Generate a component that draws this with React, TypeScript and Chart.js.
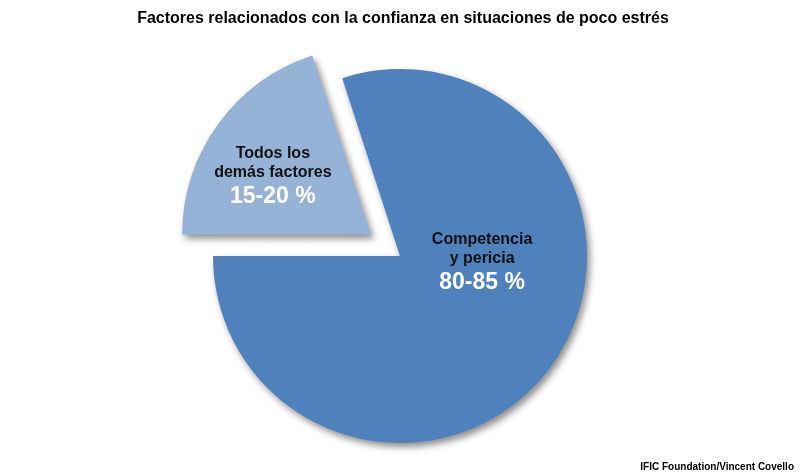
import React, { useEffect, useRef } from 'react';
import { Chart, registerables } from 'chart.js';

Chart.register(...registerables);

const TITLE = 'Factores relacionados con la confianza en situaciones de poco estrés';
const SOURCE = 'IFIC Foundation/Vincent Covello';
const categories = ['Todos los demás factores', 'Competencia y pericia'];
const labelLines = [['Todos los', 'demás factores'], ['Competencia', 'y pericia']];
const rangeLabels = ['15-20 %', '80-85 %'];
const shares = [20, 80];
const sliceColors = ['#95B3D7', '#4F81BD'];

const FONT = '"Liberation Sans", Arial, Helvetica, sans-serif';

const decorPlugin = {
  id: 'decor',
  beforeDatasetsDraw(chart: any) {
    const ctx = chart.ctx;
    ctx.save();
    ctx.shadowColor = 'rgba(0,0,0,0.45)';
    ctx.shadowBlur = 7;
    ctx.shadowOffsetX = 3;
    ctx.shadowOffsetY = 4;
  },
  afterDatasetsDraw(chart: any) {
    const ctx = chart.ctx;
    ctx.restore();
    const meta = chart.getDatasetMeta(0);
    const anchors = [
      [-0.68, -0.444],
      [0.439, 0.016],
    ];
    meta.data.forEach((arc: any, i: number) => {
      const r = arc.outerRadius;
      const cx = arc.x + anchors[i][0] * r;
      const cy = arc.y + anchors[i][1] * r;
      ctx.save();
      ctx.textAlign = 'center';
      ctx.textBaseline = 'middle';
      ctx.fillStyle = '#111111';
      ctx.font = `bold 16px ${FONT}`;
      ctx.fillText(labelLines[i][0], cx, cy - 19);
      ctx.fillText(labelLines[i][1], cx, cy);
      ctx.fillStyle = '#FFFFFF';
      ctx.font = `bold 23px ${FONT}`;
      ctx.fillText(rangeLabels[i], cx, cy + 24);
      ctx.restore();
    });
  },
  afterDraw(chart: any) {
    const ctx = chart.ctx;
    ctx.save();
    ctx.fillStyle = '#000000';
    ctx.textBaseline = 'alphabetic';
    ctx.textAlign = 'center';
    ctx.font = `bold 16px ${FONT}`;
    ctx.fillText(TITLE, 403, 23);
    ctx.textAlign = 'right';
    ctx.font = `bold 10px ${FONT}`;
    ctx.fillText(SOURCE, 794, 470);
    ctx.restore();
  },
};

export default function App() {
  const canvasRef = useRef<HTMLCanvasElement | null>(null);

  useEffect(() => {
    document.body.style.margin = '0';
    const canvas = canvasRef.current;
    if (!canvas) return;
    const chart = new Chart(canvas, {
      type: 'pie',
      data: {
        labels: categories,
        datasets: [
          {
            data: shares,
            backgroundColor: sliceColors,
            borderWidth: 0,
            offset: [144, 0],
            hoverOffset: 0,
          } as any,
        ],
      },
      options: {
        responsive: false,
        animation: false,
        events: [],
        rotation: -90,
        radius: 187,
        layout: { padding: { top: 37, bottom: 0, left: 0, right: 0 } },
        plugins: {
          legend: { display: false },
          tooltip: { enabled: false },
          title: { display: false },
        },
      } as any,
      plugins: [decorPlugin],
    });
    return () => chart.destroy();
  }, []);

  return (
    <div style={{ width: 800, height: 475, background: '#ffffff' }}>
      <canvas ref={canvasRef} width={800} height={475} style={{ display: 'block' }} />
    </div>
  );
}
